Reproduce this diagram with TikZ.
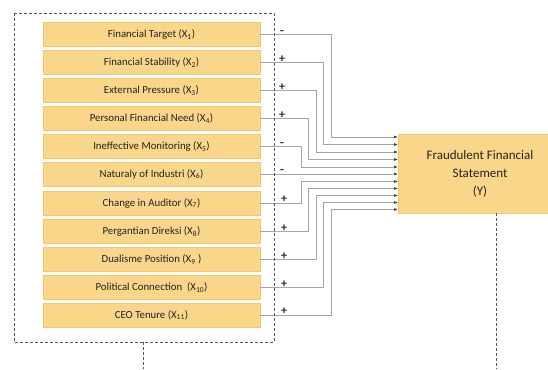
\documentclass[tikz,border=0pt]{standalone}
\usepackage{fontspec}
\setmainfont{Carlito}
\usetikzlibrary{arrows.meta}
\usetikzlibrary{calc}

\definecolor{boxfill}{RGB}{249,214,138}
\definecolor{boxedge}{RGB}{245,199,108}
\definecolor{wiregray}{RGB}{165,165,165}
\definecolor{framegray}{RGB}{85,85,85}
\definecolor{textgray}{RGB}{35,35,35}

\tikzset{
  factor/.style={draw=boxedge, fill=boxfill, minimum width=217pt, minimum height=24pt,
    inner sep=0pt, outer sep=0pt, text=textgray, font=\fontsize{10.8}{12}\selectfont},
  outcome/.style={draw=boxedge, fill=boxfill, minimum width=164pt, minimum height=79pt,
    inner sep=0pt, outer sep=0pt, text=textgray, align=center,
    font=\fontsize{13}{18}\selectfont},
  wire/.style={draw=wiregray, line width=0.7pt, -{Latex[length=4pt,width=3pt,color=black!75]}},
  sign/.style={anchor=south, inner sep=0pt, text=black!85, font=\fontsize{12}{12}\selectfont\bfseries},
  frame/.style={draw=framegray, line width=0.7pt, dash pattern=on 3pt off 2pt},
}

\begin{document}
\begin{tikzpicture}[x=1pt,y=-1pt]
                \clip (0,0) rectangle (548,369);
                \fill[white] (0,0) rectangle (548,369);
                % independent variables
                \node[factor] (X1) at (151.5,34.5) {Financial Target (X\textsubscript{1})};
                \node[factor] (X2) at (151.5,62.5) {Financial Stability (X\textsubscript{2})};
                \node[factor] (X3) at (151.5,90.5) {External Pressure (X\textsubscript{3})};
                \node[factor] (X4) at (151.5,118.5) {Personal Financial Need (X\textsubscript{4})};
                \node[factor] (X5) at (151.5,146.5) {Ineffective Monitoring (X\textsubscript{5})};
                \node[factor] (X6) at (151.5,174) {Naturaly of Industri (X\textsubscript{6})};
                \node[factor] (X7) at (151.5,203) {Change in Auditor (X\textsubscript{7})};
                \node[factor] (X8) at (151.5,231.5) {Pergantian Direksi (X\textsubscript{8})};
                \node[factor] (X9) at (151.5,259.5) {Dualisme Position (X\textsubscript{9}\ )};
                \node[factor] (X10) at (151.5,287.5) {Political Connection\ \ (X\textsubscript{10})};
                \node[factor] (X11) at (151.5,315) {CEO Tenure (X\textsubscript{11})};
                % dependent variable
                \node[outcome] (Y) at (480,173.5) {Fraudulent Financial\\Statement\\(Y)};
                % arrow ends on Y
                \coordinate (in1) at (398,137);
                \coordinate (in2) at (398,144.5);
                \coordinate (in3) at (398,152);
                \coordinate (in4) at (398,159.5);
                \coordinate (in5) at (398,167);
                \coordinate (in7) at (398,181.5);
                \coordinate (in8) at (398,188.5);
                \coordinate (in9) at (398,195.5);
                \coordinate (in10) at (398,202.5);
                \coordinate (in11) at (398,209.5);
                \draw[wire] (X1.east) -- ++(71,0) |- (in1);
                \draw[wire] (X2.east) -- ++(63.5,0) |- (in2);
                \draw[wire] (X3.east) -- ++(56,0) |- (in3);
                \draw[wire] (X4.east) -- ++(48.5,0) |- (in4);
                \draw[wire] (X5.east) -- ++(41,0) |- (in5);
                \draw[wire] (X6.east) -- (X6.east -| Y.west);
                \draw[wire] (X7.east) -- ++(41,0) |- (in7);
                \draw[wire] (X8.east) -- ++(48.5,0) |- (in8);
                \draw[wire] (X9.east) -- ++(56,0) |- (in9);
                \draw[wire] (X10.east) -- ++(63.5,0) |- (in10);
                \draw[wire] (X11.east) -- ++(71,0) |- (in11);
                % signs
                \node[sign] (s1) at ($(X1.east)+(22,0)$) {-};
                \node[sign] (s2) at ($(X2.east)+(22,0)$) {+};
                \node[sign] (s3) at ($(X3.east)+(22,0)$) {+};
                \node[sign] (s4) at ($(X4.east)+(22,0)$) {+};
                \node[sign] (s5) at ($(X5.east)+(22,0)$) {-};
                \node[sign] (s6) at ($(X6.east)+(22,0)$) {-};
                \node[sign] (s7) at ($(X7.east)+(24,0)$) {+};
                \node[sign] (s8) at ($(X8.east)+(24,0)$) {+};
                \node[sign] (s9) at ($(X9.east)+(24,0)$) {+};
                \node[sign] (s10) at ($(X10.east)+(24,0)$) {+};
                \node[sign] (s11) at ($(X11.east)+(24,0)$) {+};
                % dashed frame and drop lines
                \coordinate (frameNW) at (14,13);
                \coordinate (frameSE) at (274,342);
                \coordinate (dropL) at (143,369);
                \coordinate (dropR) at (496,369);
                \draw[frame] (frameNW) rectangle (frameSE);
                \draw[frame] (dropL |- frameSE) -- (dropL);
                \draw[frame] (dropR |- Y.south) -- (dropR);
            \end{tikzpicture}
\end{document}
